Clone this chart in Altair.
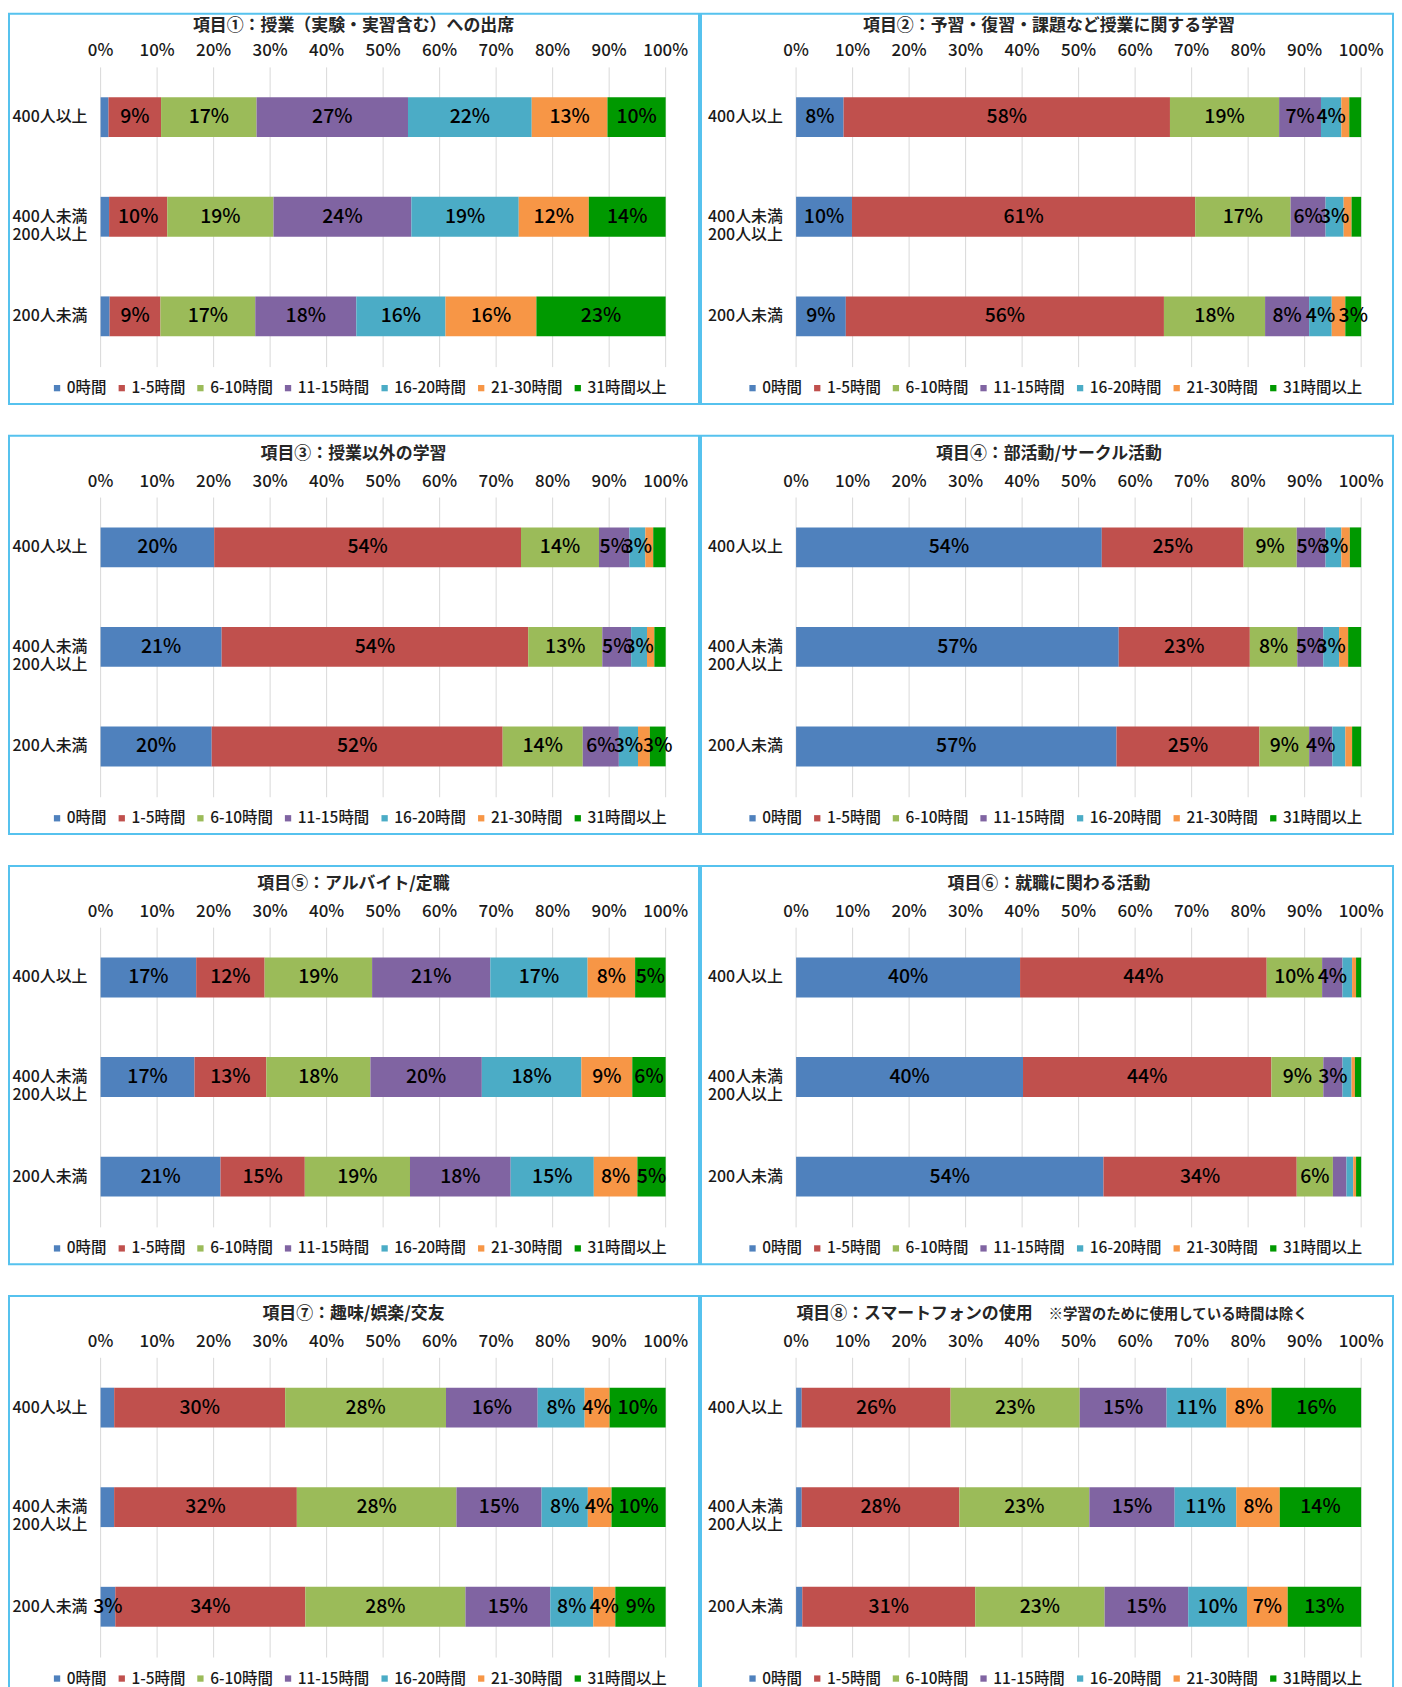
import altair as alt
import pandas as pd

FONT = "Noto Sans CJK JP"

categories = ["400人以上", "400人未満\n200人以上", "200人未満"]
hours = ["0時間", "1-5時間", "6-10時間", "11-15時間", "16-20時間", "21-30時間", "31時間以上"]
colors = ["#4F81BD", "#C0504D", "#9BBB59", "#8064A2", "#4BACC6", "#F79646", "#009900"]
tick_values = [0, 10, 20, 30, 40, 50, 60, 70, 80, 90, 100]
tick_labels = ["0%", "10%", "20%", "30%", "40%", "50%", "60%", "70%", "80%", "90%", "100%"]

titles = [
    "項目①：授業（実験・実習含む）への出席",
    "項目②：予習・復習・課題など授業に関する学習",
    "項目③：授業以外の学習",
    "項目④：部活動/サークル活動",
    "項目⑤：アルバイト/定職",
    "項目⑥：就職に関わる活動",
    "項目⑦：趣味/娯楽/交友",
    "項目⑧：スマートフォンの使用",
]
notes = ["", "", "", "", "", "", "", "※学習のために使用している時間は除く"]

# rows: 400人以上, 400人未満200人以上, 200人未満 ; columns follow `hours`
item1 = [[1.4, 9.3, 16.9, 26.8, 21.9, 13.4, 10.3],
         [1.5, 10.3, 18.8, 24.4, 19.0, 12.4, 13.6],
         [1.6, 9.0, 16.8, 17.9, 15.8, 16.1, 22.9]]
item2 = [[8.4, 57.7, 19.3, 7.4, 3.6, 1.4, 2.1],
         [9.9, 60.8, 16.9, 6.2, 3.2, 1.4, 1.7],
         [8.8, 56.3, 17.9, 7.8, 4.0, 2.4, 2.8]]
item3 = [[20.1, 54.3, 13.8, 5.4, 2.8, 1.4, 2.2],
         [21.4, 54.2, 13.1, 5.1, 2.8, 1.3, 2.0],
         [19.7, 51.6, 14.2, 6.4, 3.4, 2.1, 2.8]]
item4 = [[54.1, 25.1, 9.4, 5.1, 2.8, 1.5, 2.0],
         [57.1, 23.2, 8.4, 4.6, 2.8, 1.6, 2.3],
         [56.7, 25.3, 8.8, 4.1, 2.3, 1.2, 1.6]]
item5 = [[16.9, 12.1, 19.0, 20.9, 17.2, 8.4, 5.4],
         [16.6, 12.7, 18.4, 19.7, 17.6, 9.0, 5.9],
         [21.2, 14.9, 18.6, 17.8, 14.7, 7.7, 5.0]]
item6 = [[39.6, 43.6, 9.8, 3.6, 1.7, 0.7, 0.9],
         [40.2, 44.0, 9.2, 3.4, 1.6, 0.6, 1.1],
         [54.4, 34.2, 6.4, 2.4, 1.2, 0.5, 0.9]]
item7 = [[2.4, 30.2, 28.4, 16.2, 8.3, 4.4, 9.9],
         [2.4, 32.4, 28.3, 15.1, 8.2, 4.2, 9.6],
         [2.6, 33.6, 28.3, 15.0, 7.6, 3.9, 8.9]]
item8 = [[1.0, 26.4, 22.9, 15.4, 10.6, 8.0, 15.9],
         [1.0, 27.9, 23.0, 15.1, 10.9, 7.7, 14.4],
         [1.1, 30.6, 22.9, 14.8, 10.4, 7.2, 13.0]]

items = [item1, item2, item3, item4, item5, item6, item7, item8]

LEFT_W, RIGHT_W = 693, 695
GUARD = 14  # invisible mark above the first panel, fixes the top of the layout bounds
TEXT_WEIGHT = 500


def make_panel(title, note, rows, width, height, dx, dy, title_y, guard=False):
    recs = []
    for ci, cat in enumerate(categories):
        for hi, h in enumerate(hours):
            recs.append({"cat": cat, "hour": h, "hour_order": hi, "value": rows[ci][hi]})
    df = pd.DataFrame(recs)
    ticks_df = pd.DataFrame({"t": [v / 100 for v in tick_values], "label": tick_labels})
    cats_df = pd.DataFrame({"cat": categories})

    xs = alt.Scale(domain=[0, 1], range=[95.5 + dx, 663 + dx], nice=False, zero=False)
    ys = alt.Scale(domain=categories, range=[62 + dy, 362 + dy], paddingInner=0.6, paddingOuter=0.3)

    grid = alt.Chart(ticks_df).mark_rule(color="#D9D9D9", strokeWidth=1).encode(
        x=alt.X("t:Q", scale=xs, axis=None),
        y=alt.value(62 + dy), y2=alt.value(363 + dy))

    tick_text = alt.Chart(ticks_df).mark_text(
        font=FONT, fontSize=17, fontWeight=TEXT_WEIGHT, color="#1a1a1a",
        baseline="middle").encode(
        x=alt.X("t:Q", scale=xs, axis=None),
        y=alt.value(46 + dy), text="label:N")

    bars = alt.Chart(df).mark_bar().encode(
        x=alt.X("value:Q", stack="normalize", scale=xs, axis=None),
        y=alt.Y("cat:N", scale=ys, sort=categories, axis=None),
        color=alt.Color("hour:N", sort=hours,
                        scale=alt.Scale(domain=hours, range=colors),
                        legend=alt.Legend(orient="none", legendX=44 + dx, legendY=376 + dy,
                                          direction="horizontal", columns=7, title=None,
                                          symbolType="square", symbolSize=40,
                                          symbolStrokeWidth=0, labelFont=FONT,
                                          labelFontSize=15.5, labelFontWeight=TEXT_WEIGHT,
                                          labelColor="#1a1a1a",
                                          labelOffset=2, columnPadding=7, padding=0)),
        order=alt.Order("hour_order:Q"))

    labels = alt.Chart(df).transform_stack(
        stack="value", groupby=["cat"], as_=["v0", "v1"],
        sort=[alt.SortField("hour_order", order="ascending")], offset="normalize"
    ).transform_calculate(
        mid="(datum.v0 + datum.v1) / 2",
        lbl="format(datum.value, '.0f') + '%'"
    ).transform_filter("datum.value >= 2.5").mark_text(
        font=FONT, fontSize=19.5, fontWeight=TEXT_WEIGHT, color="#000000",
        baseline="middle").encode(
        x=alt.X("mid:Q", scale=xs, axis=None),
        y=alt.Y("cat:N", scale=ys, sort=categories, axis=None),
        text="lbl:N")

    cat_text = alt.Chart(cats_df).mark_text(
        font=FONT, fontSize=16, fontWeight=TEXT_WEIGHT, color="#1a1a1a", align="left",
        baseline="middle", lineBreak="\n", lineHeight=18).encode(
        x=alt.value(7 + dx),
        y=alt.Y("cat:N", scale=ys, sort=categories, axis=None),
        text="cat:N")

    layers = [grid, bars, labels, tick_text, cat_text]
    if note:
        t1 = alt.Chart(pd.DataFrame({"t": [title]})).mark_text(
            font=FONT, fontSize=17, fontWeight="bold", color="#262626",
            align="right", baseline="middle").encode(
            x=alt.value(333 + dx), y=alt.value(title_y), text="t:N")
        t2 = alt.Chart(pd.DataFrame({"t": [note]})).mark_text(
            font=FONT, fontSize=14.5, fontWeight="bold", color="#262626",
            align="left", baseline="middle").encode(
            x=alt.value(349 + dx), y=alt.value(title_y + 1), text="t:N")
        layers += [t1, t2]
    else:
        t1 = alt.Chart(pd.DataFrame({"t": [title]})).mark_text(
            font=FONT, fontSize=17, fontWeight="bold", color="#262626",
            align="center", baseline="middle").encode(
            x=alt.value(349.5 + dx), y=alt.value(title_y), text="t:N")
        layers.append(t1)

    if guard:
        g = alt.Chart(pd.DataFrame({"g": [0]})).mark_rule(
            strokeOpacity=0, strokeWidth=1).encode(
            x=alt.value(20), y=alt.value(-GUARD), y2=alt.value(-GUARD + 2))
        layers.append(g)

    return alt.layer(*layers).properties(width=width, height=height)


panels = []
for i in range(8):
    first_row = i < 2
    h = 392 if first_row else 400
    dy = -8 if first_row else 0
    ty = 12 if first_row else 18
    if i % 2 == 0:
        panels.append(make_panel(titles[i], notes[i], items[i], LEFT_W, h, -3.5, dy, ty,
                                 guard=(i == 0)))
    else:
        panels.append(make_panel(titles[i], notes[i], items[i], RIGHT_W, h, 0, dy, ty))

row_charts = []
for r in range(4):
    row_charts.append(
        alt.hconcat(panels[2 * r], panels[2 * r + 1], spacing=0)
        .resolve_scale(x="independent", y="independent", color="independent")
        .resolve_legend(color="independent")
    )

chart = (
    alt.vconcat(*row_charts, spacing=30)
    .resolve_scale(x="independent", y="independent", color="independent")
    .resolve_legend(color="independent")
    .properties(padding={"top": -(GUARD - 1), "left": 0, "right": 0, "bottom": 0})
    .configure_view(stroke="#56C2EE", strokeWidth=2)
)

chart.save("out.html", embed_options={"renderer": "svg", "actions": False})
